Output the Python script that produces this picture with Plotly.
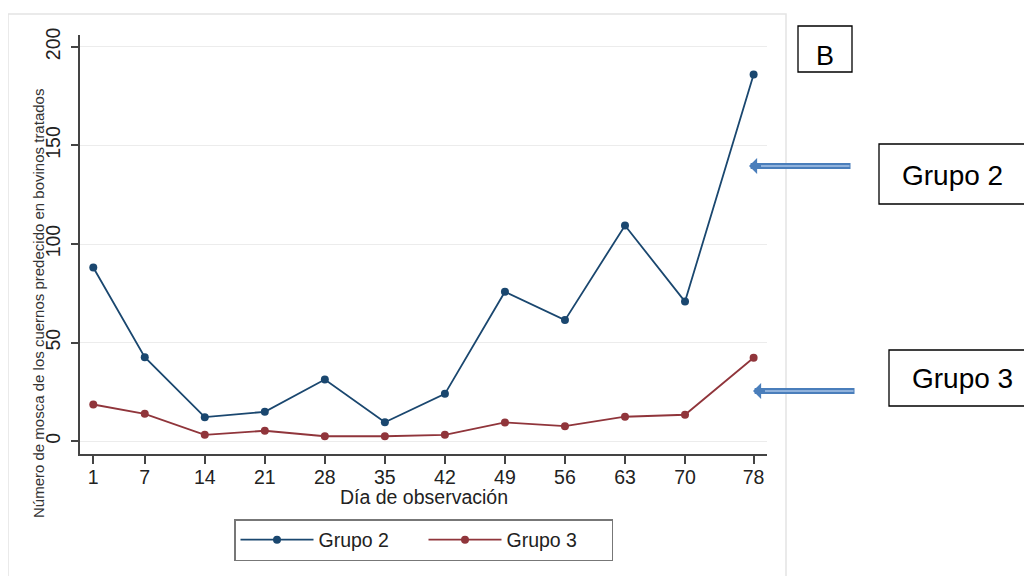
import plotly.graph_objects as go

# ---- data ----
dias = [1, 7, 14, 21, 28, 35, 42, 49, 56, 63, 70, 78]
grupo2 = [88.1, 42.6, 12.2, 14.9, 31.3, 9.6, 24.0, 75.8, 61.4, 109.4, 70.8, 186.0]
grupo3 = [18.6, 13.9, 3.2, 5.3, 2.5, 2.5, 3.2, 9.5, 7.6, 12.4, 13.4, 42.3]
y_ticks = [0, 50, 100, 150, 200]
series_names = ["Grupo 2", "Grupo 3"]

# ---- layout geometry (page pixels; the page body has an 8px margin) ----
OFF = 8
W, H = 1032 - OFF, 576 - OFF
L, R, T, B = 80, 767, 35, 454  # plot area edges, page pixels


def px(xp):
    return (xp - L) / (R - L)


def py(yp):
    return (B - yp) / (B - T)


NAVY = "#1a476f"
MAROON = "#90353b"
FONT = "Liberation Sans, Arial, sans-serif"
FS = 19.5

fig = go.Figure()
for name, vals, col in [(series_names[0], grupo2, NAVY), (series_names[1], grupo3, MAROON)]:
    fig.add_trace(go.Scatter(
        x=dias, y=vals, name=name, mode="lines+markers",
        line=dict(color=col, width=1.8),
        marker=dict(color=col, size=8, symbol="circle"),
    ))

fig.update_layout(
    width=W, height=H,
    margin=dict(l=L - OFF, r=W - (R - OFF), t=T - OFF, b=H - (B - OFF), pad=0),
    paper_bgcolor="white", plot_bgcolor="white",
    font=dict(family=FONT, color="#222", size=FS),
    showlegend=True,
    legend=dict(
        orientation="h", x=px(423.5), xanchor="center", y=py(519), yanchor="top",
        bordercolor="#777", borderwidth=1.5, bgcolor="white",
        font=dict(size=FS, family=FONT, color="#222"),
        itemwidth=73,
        entrywidth=100, entrywidthmode="pixels",
        itemclick=False,
    ),
)

fig.update_xaxes(
    range=[-0.55, 79.56], tickmode="array", tickvals=dias,
    ticktext=[str(d) for d in dias],
    showgrid=False, zeroline=False,
    showline=True, linecolor="#444", linewidth=1.5,
    ticks="outside", ticklen=8, tickwidth=1.5, tickcolor="#444",
    ticklabelstandoff=-3,
    tickfont=dict(size=FS, family=FONT, color="#222"),
)
fig.update_yaxes(
    range=[-6.5, 206], tickmode="array", tickvals=y_ticks,
    showgrid=True, gridcolor="#ececec", gridwidth=1.2, zeroline=False,
    showline=True, linecolor="#444", linewidth=1.5,
    ticks="outside", ticklen=7, tickwidth=1.5, tickcolor="#444",
    tickangle=-90, ticklabelstandoff=3,
    tickfont=dict(size=FS, family=FONT, color="#222"),
)

annotations = [
    dict(text="Día de observación", x=px(424), y=py(497), xref="paper", yref="paper",
         showarrow=False, font=dict(size=FS, family=FONT, color="#222"),
         xanchor="center", yanchor="middle"),
    dict(text="Número de mosca de los cuernos predecido en bovinos tratados",
         x=px(38), y=py(304), xref="paper", yref="paper", textangle=-90,
         showarrow=False, font=dict(size=15, family=FONT, color="#333"),
         xanchor="center", yanchor="middle"),
    dict(text="B", x=px(825), y=py(56), xref="paper", yref="paper", showarrow=False,
         font=dict(size=27, family=FONT, color="black"), xanchor="center", yanchor="middle"),
    dict(text="Grupo 2", x=px(952.5), y=py(175), xref="paper", yref="paper", showarrow=False,
         font=dict(size=28, family=FONT, color="black"), xanchor="center", yanchor="middle"),
    dict(text="Grupo 3", x=px(962.5), y=py(378), xref="paper", yref="paper", showarrow=False,
         font=dict(size=28, family=FONT, color="black"), xanchor="center", yanchor="middle"),
]
# arrows (tip, tail, y) in page pixels
for tip_x, tail_x, yy in [(749, 852, 166), (753, 856, 391)]:
    annotations.append(dict(
        text="", x=px(tip_x), y=py(yy), xref="paper", yref="paper",
        ax=tail_x - tip_x, ay=0,
        showarrow=True, arrowhead=1, arrowsize=0.45, arrowwidth=6,
        arrowcolor="#4a7ebb", standoff=0,
    ))
    annotations.append(dict(
        text="", x=px(tip_x + 12), y=py(yy), xref="paper", yref="paper",
        ax=tail_x - tip_x - 13, ay=0,
        showarrow=True, arrowhead=0, arrowwidth=1.6,
        arrowcolor="#a8c4e8", standoff=0,
    ))
fig.update_layout(annotations=annotations)

shapes = [
    # outer light frame
    dict(type="rect", xref="paper", yref="paper", x0=px(8), x1=px(786), y0=py(590), y1=py(14),
         line=dict(color="#e4e4e4", width=1.5), fillcolor="rgba(0,0,0,0)", layer="below"),
    # label boxes
    dict(type="rect", xref="paper", yref="paper", x0=px(798), x1=px(852), y0=py(72), y1=py(26),
         line=dict(color="black", width=1.3)),
    dict(type="rect", xref="paper", yref="paper", x0=px(879), x1=px(1027), y0=py(204), y1=py(144),
         line=dict(color="black", width=1.3)),
    dict(type="rect", xref="paper", yref="paper", x0=px(889), x1=px(1045), y0=py(406), y1=py(350),
         line=dict(color="black", width=1.3)),
]
fig.update_layout(shapes=shapes)

fig.write_html("out.html")
